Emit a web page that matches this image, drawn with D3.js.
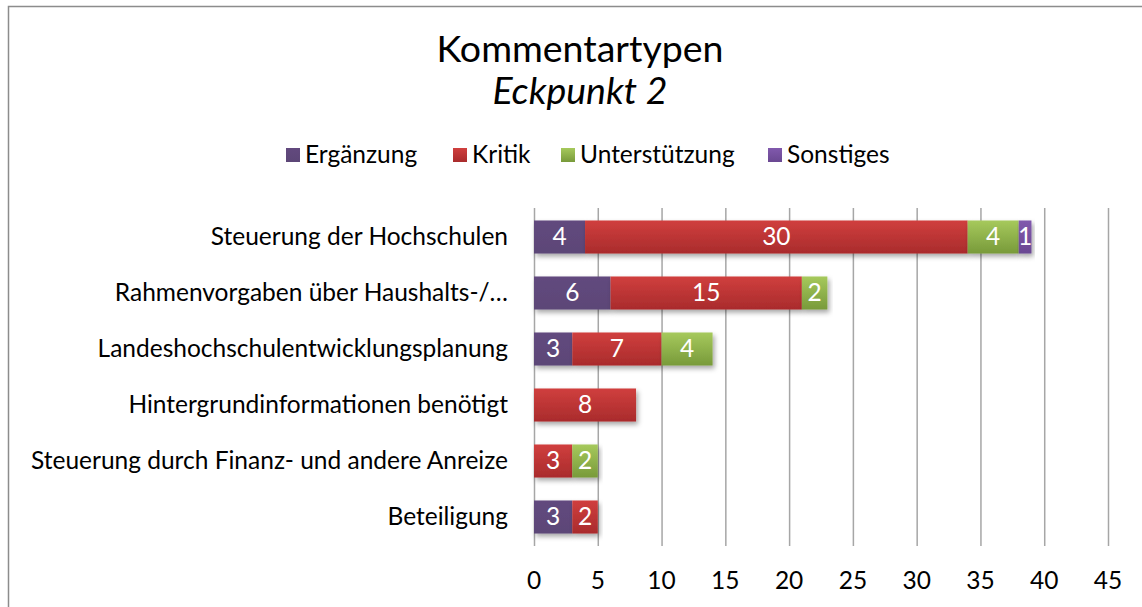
<!DOCTYPE html>
<html>
<head>
<meta charset="utf-8">
<script src="https://cdn.jsdelivr.net/npm/d3@7"></script>
<style>
  body { margin: 0; background: #fff; }
  svg { display: block; font-family: Lato, "Open Sans", sans-serif; }
</style>
</head>
<body>
<svg id="chart" width="1142" height="607"></svg>
<script>
const categories = [
  "Steuerung der Hochschulen",
  "Rahmenvorgaben über Haushalts-/…",
  "Landeshochschulentwicklungsplanung",
  "Hintergrundinformationen benötigt",
  "Steuerung durch Finanz- und andere Anreize",
  "Beteiligung"
];
const seriesNames = ["Ergänzung", "Kritik", "Unterstützung", "Sonstiges"];
const ergaenzung = [4, 6, 3, 0, 0, 3];
const kritik = [30, 15, 7, 8, 3, 2];
const unterstuetzung = [4, 2, 4, 0, 2, 0];
const sonstiges = [1, 0, 0, 0, 0, 0];
const xTicks = [0, 5, 10, 15, 20, 25, 30, 35, 40, 45];

const rows = categories.map((c, i) => ({
  cat: c,
  "Ergänzung": ergaenzung[i],
  "Kritik": kritik[i],
  "Unterstützung": unterstuetzung[i],
  "Sonstiges": sonstiges[i]
}));

const svg = d3.select("#chart");
const defs = svg.append("defs");
const fs = 24.5;

// top → bottom colours for each series
const colors = {
  "Ergänzung": ["#62497e", "#5c4677"],
  "Kritik": ["#d03f3e", "#a92b2c"],
  "Unterstützung": ["#a6c95c", "#789a3a"],
  "Sonstiges": ["#8159ad", "#6a4892"]
};
seriesNames.forEach((s, i) => {
  const g = defs.append("linearGradient").attr("id", "g" + i)
    .attr("x1", 0).attr("y1", 0).attr("x2", 0).attr("y2", 1);
  g.append("stop").attr("offset", "0%").attr("stop-color", colors[s][0]);
  g.append("stop").attr("offset", "100%").attr("stop-color", colors[s][1]);
});
defs.append("filter").attr("id", "shadow")
  .attr("x", "-10%").attr("y", "-20%").attr("width", "130%").attr("height", "160%")
  .append("feDropShadow")
  .attr("dx", 2).attr("dy", 3).attr("stdDeviation", 2.5)
  .attr("flood-color", "#000").attr("flood-opacity", 0.35);

// chart border
svg.append("rect")
  .attr("x", 8.5).attr("y", 6.5).attr("width", 1200).attr("height", 700)
  .attr("fill", "none").attr("stroke", "#8c8c8c").attr("stroke-width", 1.5);

// title
svg.append("text").attr("x", 580).attr("y", 62)
  .attr("text-anchor", "middle").attr("font-size", 37.5).attr("fill", "#000")
  .text("Kommentartypen");
svg.append("text").attr("x", 580).attr("y", 104)
  .attr("text-anchor", "middle").attr("font-size", 37.5).attr("font-style", "italic").attr("fill", "#000")
  .text("Eckpunkt 2");

const x = d3.scaleLinear([0, 45], [534, 1108]);
const y = d3.scaleBand(categories, [209, 545]).paddingInner(0.41).paddingOuter(0.205);

// gridlines
svg.append("g")
  .selectAll("line")
  .data(xTicks)
  .join("line")
  .attr("x1", d => x(d) + 0.5).attr("x2", d => x(d) + 0.5)
  .attr("y1", 208).attr("y2", 546)
  .attr("stroke", "#a6a6a6").attr("stroke-width", 1.5);

// x tick labels
svg.append("g")
  .selectAll("text")
  .data(xTicks)
  .join("text")
  .attr("x", d => x(d)).attr("y", 589)
  .attr("text-anchor", "middle").attr("font-size", fs).attr("fill", "#000")
  .text(d => d);

// category labels
svg.append("g")
  .selectAll("text")
  .data(categories)
  .join("text")
  .attr("x", 508).attr("y", d => y(d) + y.bandwidth() / 2 + 8)
  .attr("text-anchor", "end").attr("font-size", fs).attr("fill", "#000")
  .text(d => d);

// stacked bars
const stack = d3.stack().keys(seriesNames)(rows);
const layers = svg.append("g").selectAll("g")
  .data(stack)
  .join("g")
  .attr("fill", (d, i) => `url(#g${i})`);

layers.selectAll("rect")
  .data(d => d.filter(p => p[1] - p[0] > 0))
  .join("rect")
  .attr("x", d => x(d[0]))
  .attr("y", d => y(d.data.cat))
  .attr("width", d => x(d[1]) - x(d[0]))
  .attr("height", y.bandwidth())
  .attr("filter", "url(#shadow)");

// value labels
layers.selectAll("text")
  .data(d => d.filter(p => p[1] - p[0] > 0).map(p => ({ p, v: p[1] - p[0] })))
  .join("text")
  .attr("x", d => (x(d.p[0]) + x(d.p[1])) / 2)
  .attr("y", d => y(d.p.data.cat) + y.bandwidth() / 2 + 8)
  .attr("text-anchor", "middle").attr("font-size", fs).attr("fill", "#fff")
  .text(d => d.v);

// legend
const legendX = [286, 453, 561, 768];
const leg = svg.append("g").selectAll("g")
  .data(seriesNames)
  .join("g")
  .attr("transform", (d, i) => `translate(${legendX[i]},148)`);
leg.append("rect").attr("width", 14).attr("height", 14)
  .attr("fill", (d, i) => `url(#g${i})`);
leg.append("text").attr("x", 19).attr("y", 15)
  .attr("font-size", fs).attr("fill", "#000")
  .text(d => d);
</script>
</body>
</html>
